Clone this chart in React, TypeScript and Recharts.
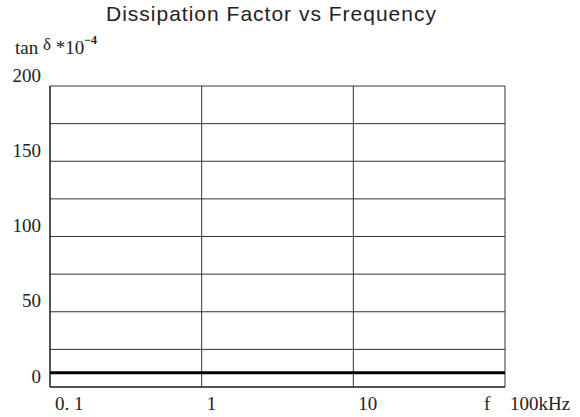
import React from 'react';
import { LineChart, Line, XAxis, YAxis, CartesianGrid } from 'recharts';

const frequencies = [0.1, 1, 10, 100];
const tanDelta = [9.5, 9.5, 9.5, 9.5];
const xTicks = [0.1, 1, 10, 100];
const xTickLabels = ['0. 1', '1', '10', '100kHz'];
const yTicks = [0, 25, 50, 75, 100, 125, 150, 175, 200];
const yLabeled = [0, 50, 100, 150, 200];
const yTickLabels = ['0', '50', '100', '150', '200'];
const title = 'Dissipation Factor vs Frequency';
const xAxisName = 'f';

const data = frequencies.map((f, i) => ({ f, v: tanDelta[i] }));

const serif = '"Liberation Serif", "DejaVu Serif", serif';

const XTick = (props: any) => {
  const { x, y, payload } = props;
  const idx = xTicks.indexOf(payload.value);
  const label = idx >= 0 ? xTickLabels[idx] : '';
  return (
    <g>
      <text x={x + 5} y={y + 8} textAnchor="start" dominantBaseline="central" fontFamily={serif} fontSize={19} fill="#222">
        {label}
      </text>
      {payload.value === 100 && (
        <text x={x - 21} y={y + 8} textAnchor="start" dominantBaseline="central" fontFamily={serif} fontSize={19} fill="#222">
          {xAxisName}
        </text>
      )}
    </g>
  );
};

const YTick = (props: any) => {
  const { x, y, payload } = props;
  const idx = yLabeled.indexOf(payload.value);
  if (idx < 0) return <g />;
  return (
    <text x={x - 1} y={y - 11} textAnchor="end" dominantBaseline="central" fontFamily={serif} fontSize={19} fill="#222">
      {yTickLabels[idx]}
    </text>
  );
};

export default function App() {
  return (
    <div style={{ position: 'absolute', left: 0, top: 0, width: 580, height: 417, background: '#fff' }}>
      <div
        style={{
          position: 'absolute',
          left: 0,
          width: 543,
          top: 1,
          textAlign: 'center',
          fontFamily: '"Liberation Sans", Arial, sans-serif',
          fontSize: 21,
          letterSpacing: 1,
          color: '#222',
          lineHeight: '25px',
        }}
      >
        {title}
      </div>
      <div
        style={{
          position: 'absolute',
          left: 15,
          top: 37,
          fontFamily: serif,
          fontSize: 19,
          color: '#222',
          whiteSpace: 'nowrap',
          lineHeight: '22px',
        }}
      >
        tan <span style={{ fontSize: 17, position: 'relative', top: -4 }}>δ</span> *10
        <span style={{ fontSize: 12, position: 'relative', top: -10, fontWeight: 'bold' }}>−4</span>
      </div>
      <LineChart
        width={580}
        height={417}
        data={data}
        margin={{ top: 86, right: 75, bottom: 0, left: 0 }}
        style={{ position: 'absolute', left: 0, top: 0 }}
      >
        <CartesianGrid stroke="#333" strokeWidth={1} />
        <XAxis
          dataKey="f"
          type="number"
          scale="log"
          domain={[0.1, 100]}
          ticks={xTicks}
          allowDataOverflow
          height={30}
          axisLine={{ stroke: '#111', strokeWidth: 1 }}
          tickLine={false}
          tick={<XTick />}
          interval={0}
        />
        <YAxis
          type="number"
          domain={[0, 200]}
          ticks={yTicks}
          width={50}
          axisLine={{ stroke: '#111', strokeWidth: 1 }}
          tickLine={false}
          tick={<YTick />}
          interval={0}
        />
        <Line dataKey="v" stroke="#000" strokeWidth={3} dot={false} isAnimationActive={false} />
      </LineChart>
    </div>
  );
}
